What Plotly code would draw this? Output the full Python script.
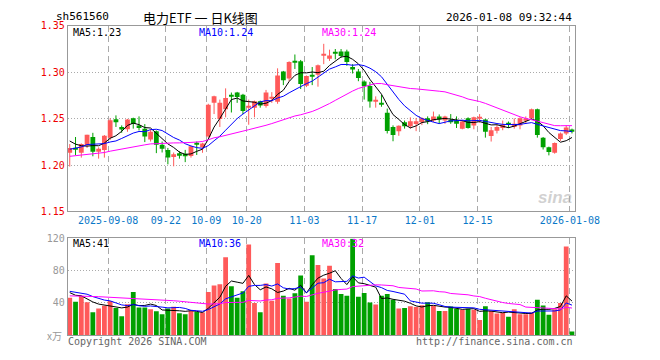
import plotly.graph_objects as go
import pandas as pd

# ---------------- data ----------------
dates = [
    "2025-08-28", "2025-08-29", "2025-09-01", "2025-09-02", "2025-09-03", "2025-09-04", "2025-09-05",
    "2025-09-08", "2025-09-09", "2025-09-10", "2025-09-11", "2025-09-12", "2025-09-15", "2025-09-16",
    "2025-09-17", "2025-09-18", "2025-09-19", "2025-09-22", "2025-09-23", "2025-09-24", "2025-09-25",
    "2025-09-26", "2025-09-29", "2025-09-30", "2025-10-09", "2025-10-10", "2025-10-13", "2025-10-14",
    "2025-10-15", "2025-10-16", "2025-10-17", "2025-10-20", "2025-10-21", "2025-10-22", "2025-10-23",
    "2025-10-24", "2025-10-27", "2025-10-28", "2025-10-29", "2025-10-30", "2025-10-31", "2025-11-03",
    "2025-11-04", "2025-11-05", "2025-11-06", "2025-11-07", "2025-11-10", "2025-11-11", "2025-11-12",
    "2025-11-13", "2025-11-14", "2025-11-17", "2025-11-18", "2025-11-19", "2025-11-20", "2025-11-21",
    "2025-11-24", "2025-11-25", "2025-11-26", "2025-11-27", "2025-11-28", "2025-12-01", "2025-12-02",
    "2025-12-03", "2025-12-04", "2025-12-05", "2025-12-08", "2025-12-09", "2025-12-10", "2025-12-11",
    "2025-12-12", "2025-12-15", "2025-12-16", "2025-12-17", "2025-12-18", "2025-12-19", "2025-12-22",
    "2025-12-23", "2025-12-24", "2025-12-25", "2025-12-26", "2025-12-29", "2025-12-30", "2025-12-31",
    "2026-01-05", "2026-01-06", "2026-01-07", "2026-01-08",
]

open_ = [
    1.2132, 1.2175, 1.2132, 1.2212, 1.2302, 1.2142, 1.2163, 1.2295, 1.2493, 1.2410,
    1.2385, 1.2503, 1.2427, 1.2392, 1.2274, 1.2365, 1.2219, 1.2163, 1.2087, 1.2128,
    1.2121, 1.2097, 1.2229, 1.2191, 1.2306, 1.2670, 1.2497, 1.2601, 1.2757, 1.2781,
    1.2757, 1.2625, 1.2618, 1.2688, 1.2635, 1.2715, 1.2681, 1.3007, 1.2931, 1.3118,
    1.3118, 1.2854, 1.2972, 1.2972, 1.3181, 1.3146, 1.3208, 1.3222, 1.3222, 1.3056,
    1.3007, 1.2900, 1.2852, 1.2681, 1.2670, 1.2562, 1.2410, 1.2365, 1.2462, 1.2417,
    1.2441, 1.2462, 1.2505, 1.2479, 1.2524, 1.2479, 1.2486, 1.2479, 1.2392, 1.2503,
    1.2427, 1.2503, 1.2490, 1.2313, 1.2368, 1.2399, 1.2444, 1.2410, 1.2427, 1.2486,
    1.2503, 1.2601, 1.2295, 1.2191, 1.2132, 1.2281, 1.2340, 1.2382,
]
high = [
    1.2226, 1.2302, 1.2233, 1.2326, 1.2347, 1.2191, 1.2323, 1.2503, 1.2535, 1.2427,
    1.2497, 1.2510, 1.2524, 1.2441, 1.2385, 1.2372, 1.2253, 1.2184, 1.2135, 1.2149,
    1.2163, 1.2208, 1.2253, 1.2240, 1.2660, 1.2747, 1.2705, 1.2826, 1.2781, 1.2788,
    1.2767, 1.2705, 1.2694, 1.2694, 1.2809, 1.2785, 1.3042, 1.3014, 1.3118, 1.3191,
    1.3132, 1.2965, 1.3056, 1.3083, 1.3306, 1.3243, 1.3250, 1.3250, 1.3243, 1.3087,
    1.3035, 1.2913, 1.2896, 1.2740, 1.2757, 1.2608, 1.2427, 1.2427, 1.2479, 1.2514,
    1.2507, 1.2514, 1.2524, 1.2576, 1.2545, 1.2531, 1.2549, 1.2524, 1.2479, 1.2514,
    1.2521, 1.2549, 1.2497, 1.2410, 1.2434, 1.2479, 1.2469, 1.2503, 1.2514, 1.2524,
    1.2608, 1.2608, 1.2302, 1.2198, 1.2243, 1.2351, 1.2427, 1.2392,
]
low = [
    1.1983, 1.2108, 1.2080, 1.2184, 1.2094, 1.2069, 1.2080, 1.2271, 1.2410, 1.2347,
    1.2358, 1.2392, 1.2372, 1.2247, 1.2253, 1.2128, 1.2135, 1.2007, 1.1986, 1.2069,
    1.2031, 1.2080, 1.2108, 1.2132, 1.2295, 1.2549, 1.2410, 1.2514, 1.2566, 1.2670,
    1.2549, 1.2434, 1.2514, 1.2618, 1.2618, 1.2670, 1.2660, 1.2861, 1.2903, 1.3035,
    1.2819, 1.2840, 1.2861, 1.2844, 1.3087, 1.3122, 1.3139, 1.3156, 1.3069, 1.2986,
    1.2903, 1.2705, 1.2618, 1.2618, 1.2628, 1.2340, 1.2256, 1.2315, 1.2392, 1.2392,
    1.2365, 1.2430, 1.2440, 1.2462, 1.2444, 1.2444, 1.2444, 1.2399, 1.2385, 1.2392,
    1.2385, 1.2455, 1.2295, 1.2253, 1.2340, 1.2375, 1.2399, 1.2392, 1.2385, 1.2444,
    1.2497, 1.2295, 1.2167, 1.2104, 1.2122, 1.2260, 1.2323, 1.2340,
]
close = [
    1.2184, 1.2170, 1.2226, 1.2326, 1.2142, 1.2174, 1.2316, 1.2483, 1.2462, 1.2382,
    1.2490, 1.2441, 1.2399, 1.2306, 1.2358, 1.2219, 1.2174, 1.2080, 1.2115, 1.2108,
    1.2094, 1.2201, 1.2219, 1.2233, 1.2649, 1.2740, 1.2670, 1.2722, 1.2743, 1.2733,
    1.2583, 1.2635, 1.2688, 1.2642, 1.2781, 1.2729, 1.2965, 1.2913, 1.3111, 1.3111,
    1.2872, 1.2958, 1.2958, 1.3076, 1.3191, 1.3181, 1.3201, 1.3174, 1.3111, 1.3028,
    1.2938, 1.2852, 1.2684, 1.2694, 1.2649, 1.2366, 1.2323, 1.2424, 1.2417, 1.2472,
    1.2472, 1.2505, 1.2470, 1.2524, 1.2490, 1.2524, 1.2462, 1.2444, 1.2469, 1.2399,
    1.2514, 1.2514, 1.2358, 1.2375, 1.2410, 1.2434, 1.2434, 1.2444, 1.2503, 1.2497,
    1.2601, 1.2323, 1.2191, 1.2139, 1.2236, 1.2340, 1.2403, 1.2365,
]
# volume in 万 (10k)
volume = [
    46.4, 41.6, 48.8, 40.8, 28.4, 33.2, 36.4, 42.4, 33.6, 23.6,
    38.4, 53.6, 34.4, 34.4, 32.0, 29.6, 26.0, 33.2, 35.2, 27.2,
    26.0, 30.4, 28.8, 28.0, 53.6, 61.6, 63.2, 96.8, 60.8, 46.4,
    54.4, 112.4, 40.0, 28.4, 64.0, 42.8, 89.6, 48.8, 45.6, 52.0,
    74.0, 41.6, 99.2, 87.2, 70.4, 86.0, 57.2, 51.2, 48.8, 119.6,
    47.6, 52.4, 40.4, 38.0, 48.8, 51.2, 44.0, 33.2, 33.6, 36.0,
    34.8, 37.2, 40.8, 36.4, 30.0, 30.0, 35.6, 32.8, 31.6, 32.8,
    31.6, 18.8, 36.0, 30.0, 26.8, 27.6, 22.8, 32.0, 26.0, 26.0,
    28.0, 44.0, 36.8, 25.2, 32.0, 40.0, 110.0, 4.4,
]
# sessions before the visible window (estimated from the moving-average lines)
prior_close = [
    1.198, 1.201, 1.204, 1.200, 1.203, 1.207, 1.205, 1.209, 1.206, 1.203,
    1.207, 1.210, 1.208, 1.205, 1.209, 1.206, 1.204, 1.208, 1.210, 1.209,
    1.205, 1.209, 1.207, 1.210, 1.209, 1.234, 1.231, 1.235, 1.211,
]
prior_volume = [
    42, 48, 51, 44, 39, 47, 53, 45, 41, 50,
    46, 43, 49, 52, 44, 40, 48, 46, 45, 47,
    55, 62, 50, 58, 55, 58, 52, 60, 47.6,
]

tick_dates = ["2025-09-08", "2025-09-22", "2025-10-09", "2025-10-20", "2025-11-03",
              "2025-11-17", "2025-12-01", "2025-12-15", "2026-01-08"]
tick_labels = ["2025-09-08", "09-22", "10-09", "10-20", "11-03",
               "11-17", "12-01", "12-15", "2026-01-08"]
price_ticks = [1.15, 1.20, 1.25, 1.30, 1.35]
vol_ticks = [40, 80, 120]
price_ma_labels = ["MA5:1.23", "MA10:1.24", "MA30:1.24"]
vol_ma_labels = ["MA5:41", "MA10:36", "MA30:32"]

# ---------------- styling ----------------
W, H = 660, 360
RED = "#ff5a5a"
GREEN = "#00a000"
MA_COLORS = ["#000000", "#0000ff", "#ff00ff"]
MONO = "DejaVu Sans Mono"

x_left, x_right = 70.5, 597.5
price_top, price_bot = 20.5, 212.5
vol_top, vol_bot = 240.5, 340.5
first_center = 72.5
step = 6.0


def px_x(p):
    return p / W


def px_y(p):
    return 1 - p / H


n = len(dates)
xs = list(range(n))
up = [c >= o for o, c in zip(open_, close)]
colors = [RED if u else GREEN for u in up]

ma_windows = [5, 10, 30]
cs = pd.Series(prior_close + close)
vs = pd.Series(prior_volume + volume)
k = len(prior_close)
price_ma = [cs.rolling(w).mean().iloc[k:].tolist() for w in ma_windows]
vol_ma = [vs.rolling(w).mean().iloc[k:].tolist() for w in ma_windows]

fig = go.Figure()

# wicks
for flag, col in [(True, RED), (False, GREEN)]:
    wx, wy = [], []
    for i in range(n):
        if up[i] == flag:
            wx += [i, i, None]
            wy += [low[i], high[i], None]
    fig.add_trace(go.Scatter(x=wx, y=wy, mode="lines", line=dict(color=col, width=1),
                             hoverinfo="skip", showlegend=False, xaxis="x", yaxis="y"))

# candle bodies
body_base = [min(o, c) for o, c in zip(open_, close)]
body_h = [max(abs(c - o), 0.0011) for o, c in zip(open_, close)]
fig.add_trace(go.Bar(x=xs, y=body_h, base=body_base, width=0.83,
                     marker=dict(color=colors, line=dict(width=0)),
                     showlegend=False, xaxis="x", yaxis="y"))

# price MAs
for ma, col in zip(price_ma, MA_COLORS):
    fig.add_trace(go.Scatter(x=xs, y=ma, mode="lines", line=dict(color=col, width=1),
                             showlegend=False, xaxis="x", yaxis="y"))

# volume bars
fig.add_trace(go.Bar(x=xs, y=volume, width=0.83,
                     marker=dict(color=colors, line=dict(width=0)),
                     showlegend=False, xaxis="x2", yaxis="y2"))
for ma, col in zip(vol_ma, MA_COLORS):
    fig.add_trace(go.Scatter(x=xs, y=ma, mode="lines", line=dict(color=col, width=1),
                             showlegend=False, xaxis="x2", yaxis="y2"))

xr = [(x_left - first_center) / step, (x_right - first_center) / step]
tickpos = [dates.index(d) - 0.35 for d in tick_dates]

common_x = dict(range=xr, domain=[px_x(x_left), px_x(x_right)], showline=True, mirror=True,
                linecolor="#999999", linewidth=1, zeroline=False, ticks="",
                tickvals=tickpos, showgrid=True, gridcolor="#aaaaaa", griddash="6px,4px",
                gridwidth=1, fixedrange=True)

fig.update_layout(
    autosize=True,
    margin=dict(l=0, r=0, t=0, b=0),
    paper_bgcolor="white", plot_bgcolor="white",
    barmode="overlay",
    showlegend=False,
    xaxis=dict(**common_x, anchor="y", ticktext=tick_labels,
               tickfont=dict(family=MONO, size=10, color="#0a78c8")),
    xaxis2=dict(**common_x, anchor="y2", showticklabels=False),
    yaxis=dict(domain=[px_y(price_bot), px_y(price_top)], range=[price_ticks[0], price_ticks[-1]],
               tickvals=price_ticks, ticktext=[f"{v:.2f}" for v in price_ticks],
               tickfont=dict(family=MONO, size=10, color="#ee0000"),
               showline=True, mirror=True, linecolor="#999999", linewidth=1,
               showgrid=True, gridcolor="#aaaaaa", griddash="1px,2px", zeroline=False,
               ticks="", anchor="x", fixedrange=True),
    yaxis2=dict(domain=[px_y(vol_bot), px_y(vol_top)], range=[0, 120],
                tickvals=vol_ticks, ticktext=[str(v) for v in vol_ticks],
                tickfont=dict(family=MONO, size=10, color="#999999"),
                showline=True, mirror=True, linecolor="#999999", linewidth=1,
                showgrid=True, gridcolor="#aaaaaa", griddash="1px,2px", zeroline=False,
                ticks="", anchor="x2", fixedrange=True),
)

ann = []


def text(x, y, s, color="#000000", size=10, xanchor="left", family=MONO, **kw):
    ann.append(dict(x=px_x(x), y=px_y(y), xref="paper", yref="paper", text=s, showarrow=False,
                    xanchor=xanchor, yanchor="middle", font=dict(family=family, size=size, color=color), **kw))


text(56, 11, "sh561560", size=11)
text(208, 12, "电力ETF 一 日K线图", size=13, xanchor="center", family="Noto Sans CJK SC")
text(597, 12, "2026-01-08 09:32:44", size=11, xanchor="right")

ma_x = [74, 205, 333]
for xx, s, col in zip(ma_x, price_ma_labels, MA_COLORS):
    text(xx, 27, s, color=col)
for xx, s, col in zip(ma_x, vol_ma_labels, MA_COLORS):
    text(xx, 246, s, color=col)

text(67, 341, "x万", color="#999999", size=10, xanchor="right", family="Noto Sans CJK SC")
text(69, 347, "Copyright 2026 SINA.COM", color="#666666")
text(598, 347, "http://finance.sina.com.cn", color="#666666", xanchor="right")
text(597, 198, "<b><i>sina</i></b>", color="rgba(170,170,170,0.55)", size=17, xanchor="right",
     family="Arial")

fig.update_layout(annotations=ann)

page_js = (
    "document.documentElement.style.margin='0';document.body.style.margin='0';"
    "document.body.style.padding='0';document.body.style.overflow='hidden';"
)

fig.write_html(
    "out.html",
    config={"displayModeBar": False, "responsive": True},
    default_width="100vw",
    default_height="100vh",
    post_script=page_js,
)
